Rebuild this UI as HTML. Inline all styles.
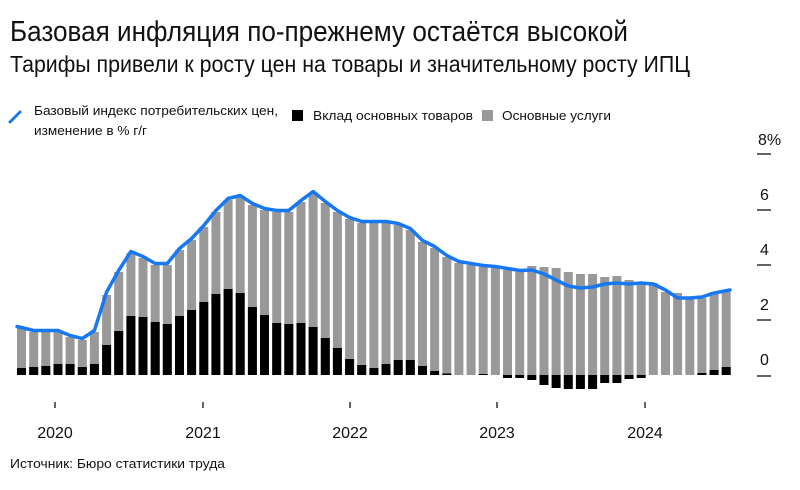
<!DOCTYPE html>
<html><head><meta charset="utf-8"><style>
html,body{margin:0;padding:0;background:#fff;}
svg{display:block;font-family:"Liberation Sans","DejaVu Sans",sans-serif;}
</style></head><body>
<svg width="800" height="490" viewBox="0 0 800 490" xmlns="http://www.w3.org/2000/svg">
<text x="10" y="41" font-size="29" fill="#111" textLength="618" lengthAdjust="spacingAndGlyphs">Базовая инфляция по-прежнему остаётся высокой</text>
<text x="10" y="72" font-size="23" fill="#111" textLength="680" lengthAdjust="spacingAndGlyphs">Тарифы привели к росту цен на товары и значительному росту ИПЦ</text>
<line x1="10" y1="122" x2="20" y2="112" stroke="#1877f2" stroke-width="3" stroke-linecap="round"/>
<text x="34" y="115" font-size="13" fill="#111" textLength="244" lengthAdjust="spacingAndGlyphs">Базовый индекс потребительских цен,</text>
<text x="34" y="135" font-size="13" fill="#111" textLength="113" lengthAdjust="spacingAndGlyphs">изменение в % г/г</text>
<rect x="292" y="110" width="11" height="11" fill="#000"/>
<text x="313" y="120" font-size="13" fill="#111" textLength="160" lengthAdjust="spacingAndGlyphs">Вклад основных товаров</text>
<rect x="482" y="110" width="11" height="11" fill="#999"/>
<text x="502" y="120" font-size="13" fill="#111" textLength="109" lengthAdjust="spacingAndGlyphs">Основные услуги</text>
<g font-size="16" fill="#111">
<text x="758" y="145">8%</text><text x="760" y="200">6</text><text x="760" y="255">4</text><text x="760" y="310">2</text><text x="760" y="365">0</text>
</g>
<g stroke="#111" stroke-width="1.3">
<line x1="757" y1="154" x2="771" y2="154"/><line x1="757" y1="210" x2="771" y2="210"/><line x1="757" y1="265" x2="771" y2="265"/><line x1="757" y1="320" x2="771" y2="320"/><line x1="757" y1="376" x2="771" y2="376"/>
<line x1="55" y1="402" x2="55" y2="408"/><line x1="203" y1="402" x2="203" y2="408"/><line x1="350" y1="402" x2="350" y2="408"/><line x1="497" y1="402" x2="497" y2="408"/><line x1="645" y1="402" x2="645" y2="408"/>
</g>
<g font-size="16" fill="#111" text-anchor="middle">
<text x="55" y="438">2020</text><text x="203" y="438">2021</text><text x="350" y="438">2022</text><text x="497" y="438">2023</text><text x="645" y="438">2024</text>
</g>
<text x="10" y="468" font-size="13" fill="#111" textLength="215" lengthAdjust="spacingAndGlyphs">Источник: Бюро статистики труда</text>
<path fill="none" stroke="#999" stroke-width="9" d="M21.5 328V375M33.7 332V375M45.8 332V375M58 332V375M70.1 337V375M82.3 340V375M94.4 332V375M106.6 295V375M118.7 272V375M130.9 253V375M143 258V375M155.2 265V375M167.3 265V375M179.5 250V375M191.6 240V375M203.8 227V375M215.9 212V375M228.1 200V375M240.2 197V375M252.4 205V375M264.5 210V375M276.7 212V375M288.8 212V375M301 202V375M313.1 193V375M325.3 203V375M337.4 212V375M349.6 219V375M361.7 223V375M373.9 223V375M386 223V375M398.2 225V375M410.3 230V375M422.5 242V375M434.6 248V375M446.8 257V375M458.9 263V375M471.1 265V375M483.2 267V375M495.4 268V375M507.5 270V375M519.7 272V375M531.8 266V375M544 267V375M556.1 268V375M568.3 272V375M580.4 274V375M592.6 274V375M604.7 277V375M616.9 276V375M629 280V375M641.2 283V375M653.3 283V375M665.5 292V375M677.6 293V375M689.8 298V375M701.9 298V375M714.1 292V375M726.2 292V375"/>
<path fill="none" stroke="#000" stroke-width="9" d="M21.5 368V375M33.7 367V375M45.8 366V375M58 364V375M70.1 364V375M82.3 367V375M94.4 364V375M106.6 345V375M118.7 331V375M130.9 316V375M143 317V375M155.2 322V375M167.3 324V375M179.5 316V375M191.6 310V375M203.8 302V375M215.9 294V375M228.1 289V375M240.2 293V375M252.4 307V375M264.5 315V375M276.7 323V375M288.8 324V375M301 323V375M313.1 327V375M325.3 338V375M337.4 348V375M349.6 359V375M361.7 365V375M373.9 368V375M386 364V375M398.2 360V375M410.3 360V375M422.5 366V375M434.6 371V375M446.8 373.5V375M483.2 374V375M507.5 375V378M519.7 375V378M531.8 375V380M544 375V385M556.1 375V388M568.3 375V389M580.4 375V389M592.6 375V389M604.7 375V383M616.9 375V383M629 375V379M641.2 375V378M701.9 373V375M714.1 370V375M726.2 367V375"/>
<polyline fill="none" stroke="#1877f2" stroke-width="3.5" stroke-linejoin="round" stroke-linecap="round" points="17,326.5 33.7,330.5 45.8,330.5 58,330.5 70.1,335.5 82.3,338.5 94.4,330.5 106.6,292 118.7,270.5 130.9,251.5 143,256.5 155.2,263.5 167.3,263.5 179.5,248.5 191.6,238.5 203.8,225.5 215.9,210.5 228.1,198.5 240.2,195.5 252.4,203.5 264.5,208.5 276.7,210.5 288.8,210.5 301,200.5 313.1,191.5 325.3,201.5 337.4,210.5 349.6,217.5 361.7,221.5 373.9,221.5 386,221.5 398.2,223.5 410.3,228.5 422.5,240.5 434.6,246.5 446.8,255.5 458.9,261.5 471.1,263.5 483.2,265.5 495.4,266.5 507.5,268.5 519.7,270.5 531.8,270 544,274 556.1,280 568.3,286 580.4,288 592.6,287 604.7,284 616.9,283 629,284 641.2,283 653.3,284 665.5,290 677.6,298 689.8,298 701.9,297 714.1,293 730,290"/>
</svg>
</body></html>
